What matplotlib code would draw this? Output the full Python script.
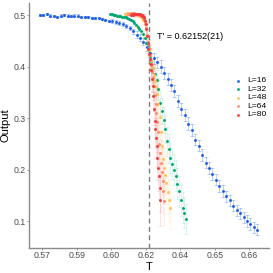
import matplotlib
matplotlib.use('Agg')
import matplotlib.pyplot as plt
from matplotlib.patches import Rectangle

plt.rcParams['font.family'] = ['Liberation Sans', 'DejaVu Sans']

TC = 0.62152

# L = 16
T16 = [0.5740, 0.5755, 0.5770, 0.5785, 0.5800, 0.5815, 0.5830, 0.5845, 0.5860, 0.5875,
       0.5890, 0.5905, 0.5920, 0.5935, 0.5950, 0.5965, 0.5980, 0.5995, 0.6010, 0.6025,
       0.6040, 0.6055, 0.6070, 0.6085, 0.6100, 0.6115, 0.6130, 0.6145, 0.6160, 0.6175,
       0.6190, 0.6205, 0.6220, 0.6235, 0.6250, 0.6265, 0.6280, 0.6295, 0.6310, 0.6325,
       0.6340, 0.6355, 0.6370, 0.6385, 0.6400, 0.6415, 0.6430, 0.6445, 0.6460, 0.6475,
       0.6490, 0.6505, 0.6520, 0.6535, 0.6550, 0.6565, 0.6580, 0.6595, 0.6610, 0.6625,
       0.6640, 0.6655, 0.6670, 0.6685]
y16 = [0.500, 0.500, 0.502, 0.499, 0.498, 0.497, 0.499, 0.500, 0.499, 0.498,
       0.499, 0.499, 0.496, 0.497, 0.496, 0.495, 0.494, 0.494, 0.493, 0.490,
       0.489, 0.488, 0.487, 0.485, 0.483, 0.479, 0.475, 0.468, 0.462, 0.456,
       0.448, 0.437, 0.426, 0.416, 0.408, 0.400, 0.388, 0.376, 0.364, 0.352,
       0.333, 0.317, 0.306, 0.289, 0.277, 0.258, 0.246, 0.228, 0.213, 0.203,
       0.191, 0.180, 0.168, 0.158, 0.148, 0.140, 0.130, 0.121, 0.115, 0.107,
       0.100, 0.094, 0.088, 0.083]
e16 = [0.002, 0.002, 0.002, 0.002, 0.002, 0.002, 0.002, 0.002, 0.002, 0.002,
       0.002, 0.002, 0.002, 0.002, 0.002, 0.002, 0.002, 0.002, 0.002, 0.002,
       0.002, 0.004, 0.004, 0.004, 0.004, 0.004, 0.004, 0.004, 0.007, 0.007,
       0.007, 0.007, 0.010, 0.011, 0.011, 0.012, 0.012, 0.012, 0.012, 0.012,
       0.012, 0.012, 0.012, 0.012, 0.012, 0.011, 0.011, 0.011, 0.011, 0.011,
       0.011, 0.011, 0.011, 0.011, 0.011, 0.011, 0.011, 0.011, 0.011, 0.011,
       0.011, 0.011, 0.011, 0.011]

# L = 32
T32 = [0.60450, 0.60525, 0.60600, 0.60675, 0.60750, 0.60825, 0.60900, 0.60975, 0.61050, 0.61125,
       0.61200, 0.61275, 0.61350, 0.61425, 0.61500, 0.61575, 0.61650, 0.61725, 0.61800, 0.61875,
       0.61950, 0.62025, 0.62100, 0.62175, 0.62250, 0.62325, 0.62400, 0.62475, 0.62550, 0.62625,
       0.62700, 0.62775, 0.62850, 0.62925, 0.63000, 0.63075, 0.63150, 0.63225, 0.63300, 0.63375,
       0.63450, 0.63525, 0.63600, 0.63675, 0.63750]
y32 = [0.502, 0.501, 0.500, 0.500, 0.499, 0.499, 0.498, 0.497, 0.497, 0.496,
       0.494, 0.493, 0.490, 0.488, 0.485, 0.481, 0.477, 0.473, 0.468, 0.463,
       0.455, 0.446, 0.436, 0.420, 0.410, 0.398, 0.386, 0.373, 0.356, 0.330,
       0.314, 0.296, 0.278, 0.255, 0.240, 0.222, 0.210, 0.200, 0.188, 0.172,
       0.158, 0.140, 0.126, 0.116, 0.104]
e32 = [0.002, 0.002, 0.002, 0.002, 0.002, 0.002, 0.002, 0.002, 0.002, 0.002,
       0.002, 0.002, 0.002, 0.002, 0.002, 0.003, 0.003, 0.004, 0.005, 0.006,
       0.007, 0.008, 0.010, 0.012, 0.014, 0.016, 0.018, 0.020, 0.022, 0.024,
       0.025, 0.026, 0.027, 0.028, 0.028, 0.029, 0.029, 0.030, 0.030, 0.030,
       0.030, 0.030, 0.030, 0.030, 0.030]

# L = 48
T48 = [0.6110, 0.6115, 0.6120, 0.6125, 0.6130, 0.6135, 0.6140, 0.6145, 0.6150, 0.6155,
       0.6160, 0.6165, 0.6170, 0.6175, 0.6180, 0.6185, 0.6190, 0.6195, 0.6200, 0.6205,
       0.6210, 0.6215, 0.6220, 0.6225, 0.6230, 0.6235, 0.6240, 0.6245, 0.6250, 0.6255,
       0.6260, 0.6265, 0.6270, 0.6275, 0.6280, 0.6285, 0.6290, 0.6295, 0.6300, 0.6305]
y48 = [0.502, 0.502, 0.503, 0.502, 0.503, 0.502, 0.503, 0.502, 0.502, 0.501,
       0.501, 0.500, 0.499, 0.498, 0.496, 0.494, 0.490, 0.484, 0.475, 0.462,
       0.447, 0.433, 0.422, 0.410, 0.398, 0.384, 0.372, 0.360, 0.347, 0.328,
       0.302, 0.272, 0.245, 0.220, 0.203, 0.190, 0.174, 0.156, 0.140, 0.125]
e48 = [0.002, 0.002, 0.002, 0.002, 0.002, 0.002, 0.002, 0.002, 0.002, 0.002,
       0.002, 0.002, 0.002, 0.002, 0.003, 0.003, 0.004, 0.005, 0.006, 0.008,
       0.010, 0.012, 0.014, 0.016, 0.018, 0.020, 0.022, 0.024, 0.026, 0.028,
       0.030, 0.032, 0.034, 0.036, 0.038, 0.040, 0.040, 0.040, 0.040, 0.040]

# L = 64
T64 = [0.612300, 0.612675, 0.613050, 0.613425, 0.613800, 0.614175, 0.614550, 0.614925, 0.615300, 0.615675,
       0.616050, 0.616425, 0.616800, 0.617175, 0.617550, 0.617925, 0.618300, 0.618675, 0.619050, 0.619425,
       0.619800, 0.620175, 0.620550, 0.620925, 0.621300, 0.621675, 0.622050, 0.622425, 0.622800, 0.623175,
       0.623550, 0.623925, 0.624300, 0.624675, 0.625050, 0.625425, 0.625800, 0.626175, 0.626550, 0.626925,
       0.627300, 0.627675, 0.628050]
y64 = [0.501, 0.502, 0.501, 0.502, 0.503, 0.502, 0.502, 0.503, 0.502, 0.502,
       0.502, 0.501, 0.501, 0.500, 0.500, 0.499, 0.498, 0.497, 0.494, 0.490,
       0.483, 0.474, 0.461, 0.447, 0.435, 0.423, 0.413, 0.402, 0.390, 0.377,
       0.362, 0.345, 0.328, 0.310, 0.292, 0.272, 0.250, 0.232, 0.213, 0.196,
       0.178, 0.158, 0.138]
e64 = [0.002, 0.002, 0.002, 0.002, 0.002, 0.002, 0.002, 0.002, 0.002, 0.002,
       0.002, 0.002, 0.002, 0.002, 0.002, 0.003, 0.003, 0.004, 0.005, 0.006,
       0.008, 0.010, 0.012, 0.014, 0.016, 0.018, 0.020, 0.022, 0.024, 0.026,
       0.028, 0.030, 0.032, 0.034, 0.036, 0.038, 0.040, 0.042, 0.044, 0.045,
       0.045, 0.045, 0.045]

# L = 80
T80 = [0.6137, 0.6140, 0.6143, 0.6146, 0.6149, 0.6152, 0.6155, 0.6158, 0.6161, 0.6164,
       0.6167, 0.6170, 0.6173, 0.6176, 0.6179, 0.6182, 0.6185, 0.6188, 0.6191, 0.6194,
       0.6197, 0.6200, 0.6203, 0.6206, 0.6209, 0.6212, 0.6215, 0.6218, 0.6221, 0.6224,
       0.6227, 0.6230, 0.6233, 0.6236, 0.6239, 0.6242, 0.6245, 0.6248, 0.6251, 0.6254,
       0.6257, 0.6260, 0.6263]
y80 = [0.500, 0.501, 0.500, 0.501, 0.502, 0.501, 0.502, 0.501, 0.502, 0.502,
       0.501, 0.502, 0.501, 0.501, 0.500, 0.500, 0.499, 0.498, 0.497, 0.494,
       0.489, 0.482, 0.472, 0.460, 0.446, 0.434, 0.424, 0.414, 0.404, 0.393,
       0.376, 0.363, 0.343, 0.318, 0.295, 0.278, 0.262, 0.246, 0.222, 0.202,
       0.188, 0.165, 0.140]
e80 = [0.002, 0.002, 0.002, 0.002, 0.002, 0.002, 0.002, 0.002, 0.002, 0.002,
       0.002, 0.002, 0.002, 0.002, 0.002, 0.002, 0.003, 0.003, 0.004, 0.005,
       0.006, 0.008, 0.010, 0.012, 0.014, 0.016, 0.018, 0.020, 0.022, 0.024,
       0.026, 0.028, 0.030, 0.032, 0.034, 0.036, 0.038, 0.040, 0.042, 0.044,
       0.046, 0.048, 0.050]

labels = ['L=16', 'L=32', 'L=48', 'L=64', 'L=80']
colors = ['#1f5fe6', '#00a870', '#ffc35a', '#ff8c6e', '#f23c3c']
series = [(T16, y16, e16), (T32, y32, e32), (T48, y48, e48), (T64, y64, e64), (T80, y80, e80)]

xticks = [0.575, 0.59, 0.605, 0.62, 0.635, 0.65, 0.665]
xticklabels = ['0.57', '0.59', '0.60', '0.62', '0.64', '0.65', '0.66']
yticks = [0.1, 0.2, 0.3, 0.4, 0.5]

fig = plt.figure(figsize=(2.73, 2.73), dpi=100)
ax = fig.add_axes([29.3 / 273, 1 - 247.7 / 273, (269 - 29.3) / 273, (247.7 - 3) / 273])

ax.axvline(TC, color='#7f7f7f', lw=1.0, ls=(0, (3.5, 2.5)), zorder=1)

for k, (T, y, e) in enumerate(series):
    if k == 0:
        ax.errorbar(T, y, yerr=e, fmt='none', ecolor=colors[k], elinewidth=0.6,
                    capsize=1.2, capthick=0.6, alpha=0.35, zorder=2)
    else:
        ax.errorbar(T, y, yerr=e, fmt='none', ecolor=colors[k], elinewidth=0.8,
                    capsize=1.5, capthick=0.6, alpha=0.13, zorder=2)
for k, (T, y, e) in enumerate(series):
    ax.scatter(T, y, s=4.5, color=colors[k], linewidths=0, zorder=3 + k)

ax.text(0.62477, 0.4579, "T' = 0.62152(21)", fontsize=6.5, ha='left', va='center', color='black')

ax.set_xlim(0.56939, 0.67358)
ax.set_ylim(0.0482, 0.5233)
ax.set_xticks(xticks)
ax.set_xticklabels(xticklabels)
ax.set_yticks(yticks)
ax.set_yticklabels(['0.1', '0.2', '0.3', '0.4', '0.5'])
ax.tick_params(labelsize=6.3, labelcolor='#4d4d4d', color='#8a8a8a', length=1.5, width=0.6, pad=1.2)

for s in ['top', 'right']:
    ax.spines[s].set_visible(False)
for s in ['left', 'bottom']:
    ax.spines[s].set_color('#8a8a8a')
    ax.spines[s].set_linewidth(1.0)

ax.set_xlabel('T', fontsize=8, labelpad=1)
ax.set_ylabel('Output', fontsize=8, labelpad=2)

# legend drawn by hand, ggplot style
fig.add_artist(Rectangle((232 / 273, 1 - 119 / 273), 11 / 273, 43 / 273,
                         transform=fig.transFigure, color='#f2f2f2', lw=0, zorder=0))
for k, lab in enumerate(labels):
    yy = 1 - (80.7 + 8.5 * k) / 273
    fig.add_artist(plt.Line2D([237.5 / 273], [yy], marker='o', ms=2.0, mew=0,
                              color=colors[k], transform=fig.transFigure))
    fig.text(247.5 / 273, yy, lab, fontsize=6.1, ha='left', va='center', color='black')

fig.savefig('out.png', dpi=100)
